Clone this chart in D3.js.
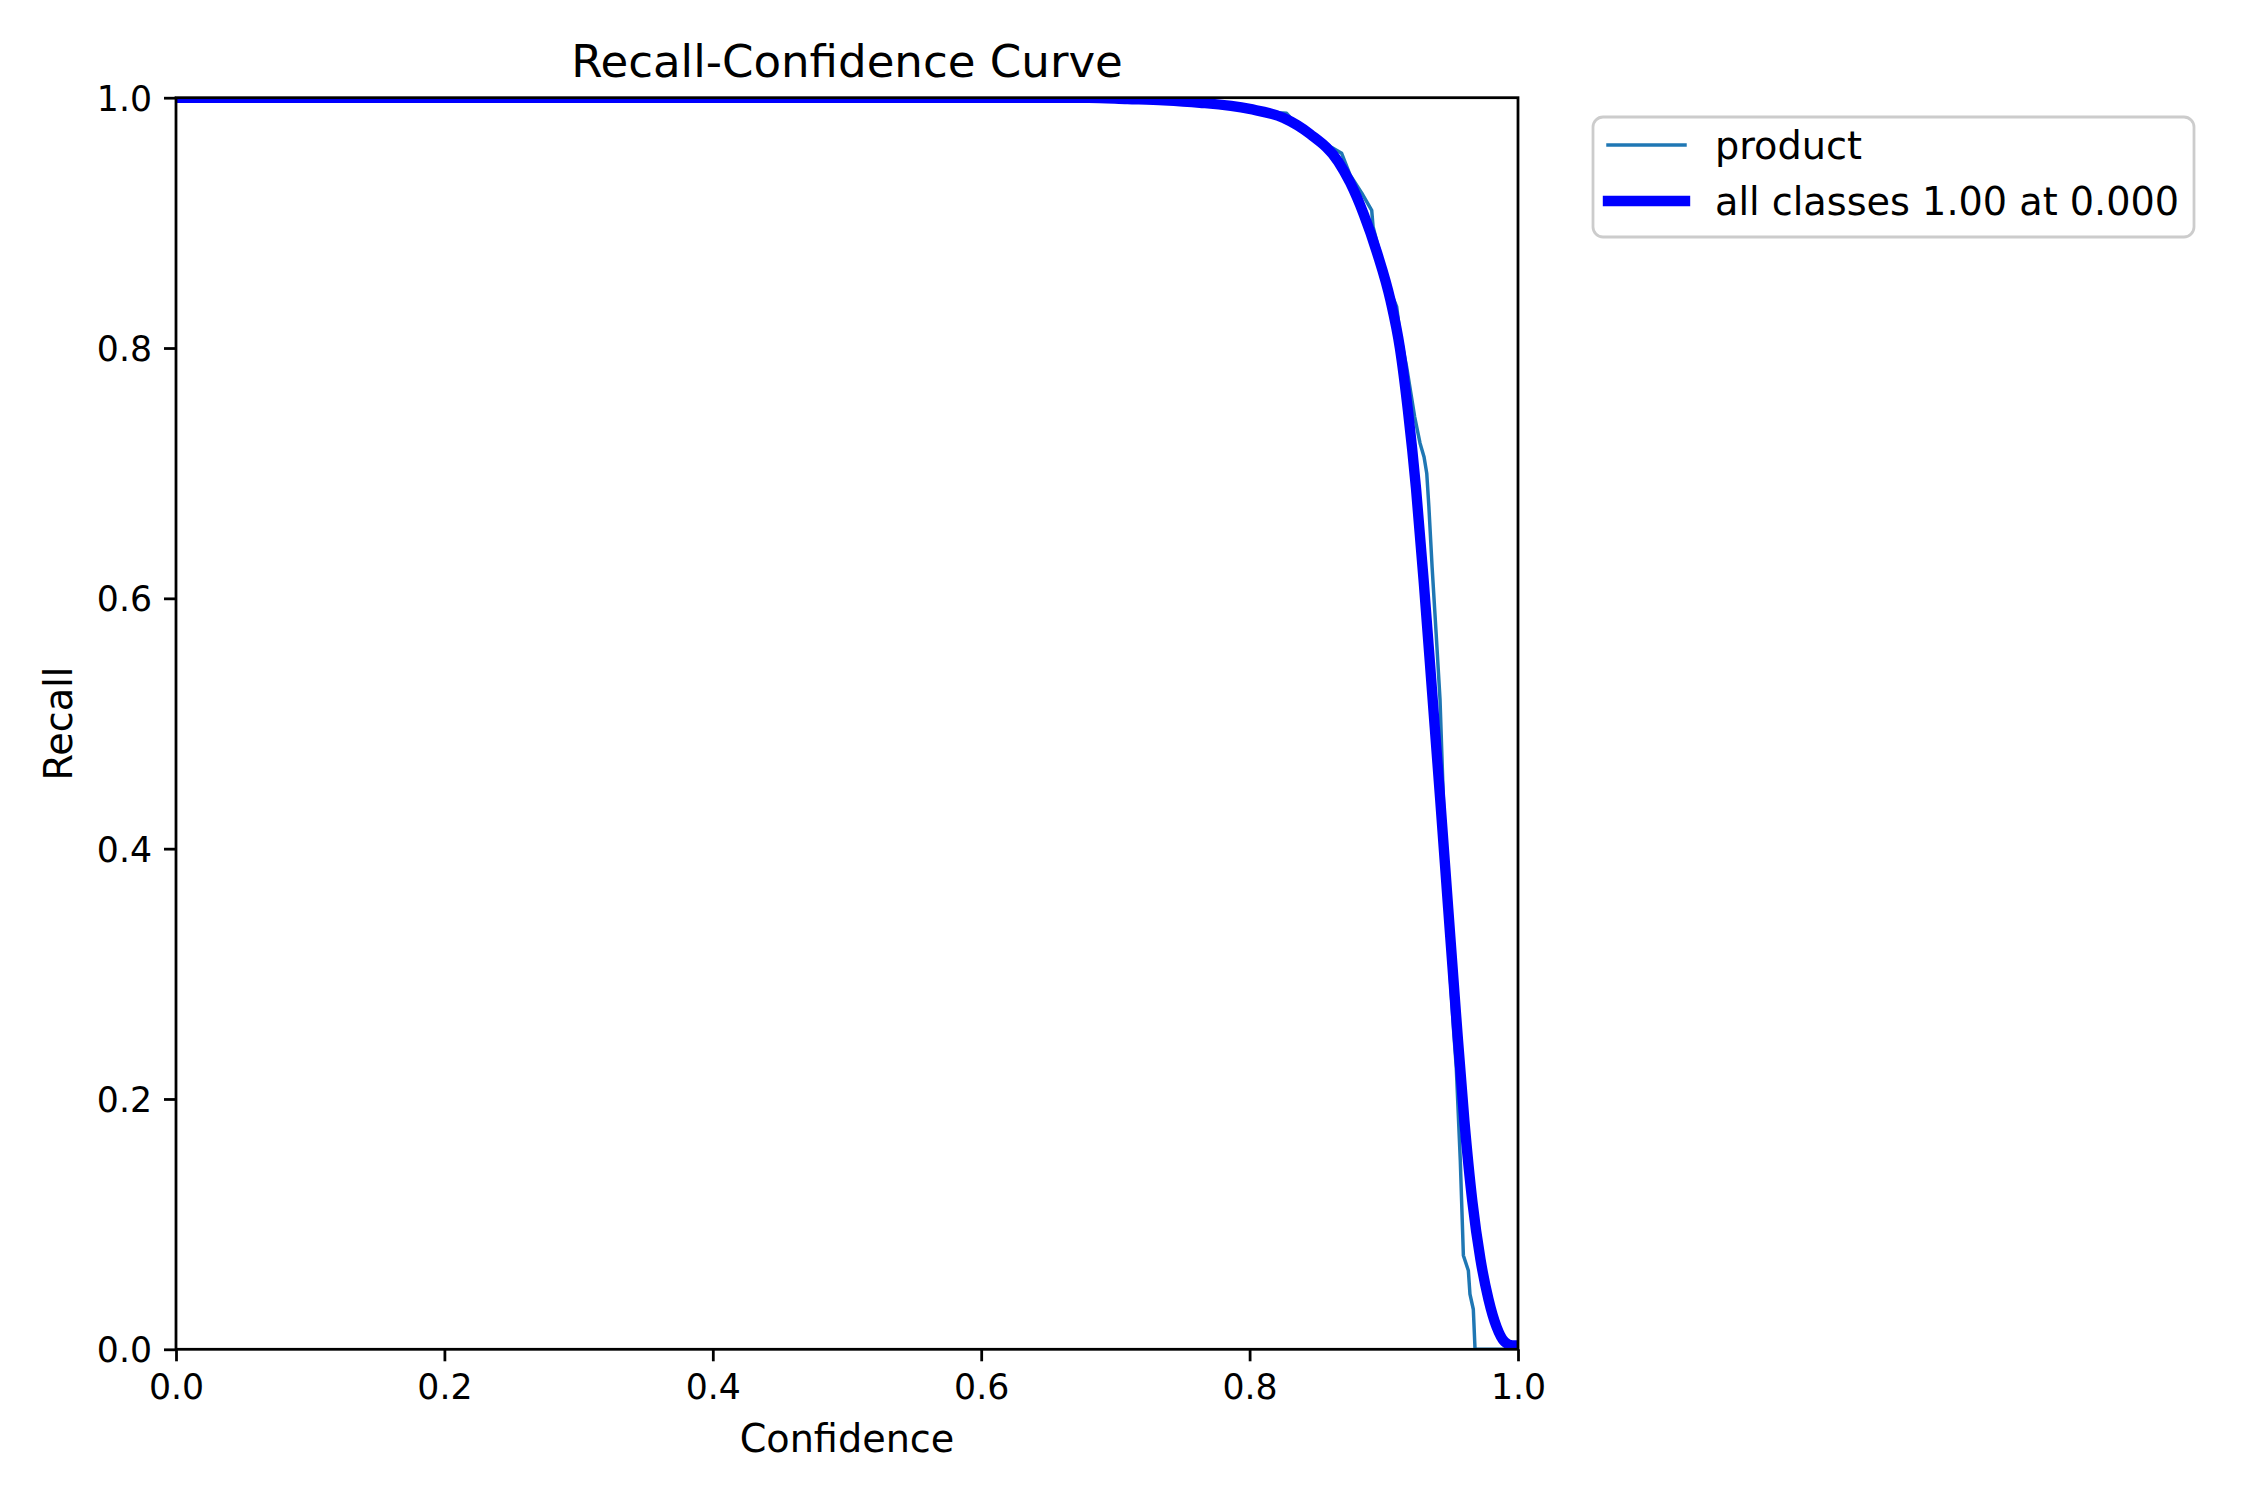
<!DOCTYPE html>
<html>
<head>
<meta charset="utf-8">
<script src="https://cdn.jsdelivr.net/npm/d3@7"></script>
<style>
  body { margin: 0; background: #fff; }
  text { font-family: "DejaVu Sans", sans-serif; fill: #000; }
</style>
</head>
<body>
<svg id="chart" width="2250" height="1500"></svg>
<script>
// per-class curve (product)
var productConf = [0, 0.60, 0.70, 0.74, 0.78, 0.81, 0.822, 0.8276, 0.833, 0.845, 0.860, 0.8686,
  0.875, 0.8835, 0.891, 0.892, 0.898, 0.9046, 0.9096, 0.912, 0.917, 0.923, 0.927, 0.930, 0.932,
  0.9336, 0.936, 0.939, 0.9419, 0.9444, 0.9493, 0.952, 0.954, 0.957, 0.9593, 0.963, 0.9642,
  0.9667, 0.968, 1.0];
var productRecall = [1, 1, 1, 0.997, 0.993, 0.99, 0.988, 0.9875, 0.981, 0.973, 0.961, 0.9556,
  0.938, 0.924, 0.910, 0.897, 0.872, 0.846, 0.833, 0.812, 0.785, 0.745, 0.724, 0.713, 0.700,
  0.673, 0.625, 0.572, 0.519, 0.439, 0.301, 0.255, 0.225, 0.151, 0.075, 0.063, 0.044,
  0.032, 0.0, 0.0];

// mean over all classes
var allConf = [0, 0.60, 0.68, 0.709, 0.736, 0.763, 0.80, 0.825, 0.845, 0.866, 0.875, 0.885,
  0.895, 0.905, 0.912, 0.918, 0.924, 0.930, 0.936, 0.942, 0.948, 0.954, 0.960, 0.966, 0.972,
  0.978, 0.984, 0.990, 0.996, 1.0];
var allRecall = [1, 1, 1, 0.999, 0.998, 0.996, 0.991, 0.984, 0.971, 0.949, 0.932, 0.907,
  0.876, 0.838, 0.800, 0.750, 0.688, 0.610, 0.525, 0.440, 0.352, 0.265, 0.183, 0.118, 0.072,
  0.040, 0.018, 0.006, 0.003, 0.003];

var xTicks = [0, 0.2, 0.4, 0.6, 0.8, 1.0];
var yTicks = [0, 0.2, 0.4, 0.6, 0.8, 1.0];
var legendLabels = ["product", "all classes 1.00 at 0.000"];

(function () {
  var svg = d3.select("#chart");
  // plot box in pixels (note: "top" is taken by window.top, so prefix everything)
  var pLeft = 176, pRight = 1518, pTop = 97.7, pBottom = 1349.3;
  var lw = 2.78; // 0.8pt at 250 dpi

  var x = d3.scaleLinear().domain([0, 1]).range([pLeft, pRight]);
  var y = d3.scaleLinear().domain([0, 1]).range([pBottom, pTop]);

  svg.append("rect").attr("width", 2250).attr("height", 1500).attr("fill", "#fff");

  svg.append("clipPath").attr("id", "plotclip")
    .append("rect")
    .attr("x", pLeft).attr("y", pTop)
    .attr("width", pRight - pLeft).attr("height", pBottom - pTop);

  var plot = svg.append("g").attr("clip-path", "url(#plotclip)");

  var thinLine = d3.line()
    .x(function (d) { return x(d[0]); })
    .y(function (d) { return y(d[1]); });

  var thickLine = d3.line()
    .x(function (d) { return x(d[0]); })
    .y(function (d) { return y(d[1]); })
    .curve(d3.curveMonotoneX);

  plot.append("path")
    .datum(d3.zip(productConf, productRecall))
    .attr("d", thinLine)
    .attr("fill", "none")
    .attr("stroke", "#1f77b4")
    .attr("stroke-width", 3.47)
    .attr("stroke-linejoin", "round");

  plot.append("path")
    .datum(d3.zip(allConf, allRecall))
    .attr("d", thickLine)
    .attr("fill", "none")
    .attr("stroke", "#0000ff")
    .attr("stroke-width", 10.4)
    .attr("stroke-linejoin", "round")
    .attr("stroke-linecap", "square");

  // axes
  var xAxis = d3.axisBottom(x).tickValues(xTicks).tickFormat(d3.format(".1f"))
    .tickSize(12).tickPadding(12);
  var yAxis = d3.axisLeft(y).tickValues(yTicks).tickFormat(d3.format(".1f"))
    .tickSize(12).tickPadding(12);

  var gx = svg.append("g").attr("transform", "translate(0," + pBottom + ")").call(xAxis);
  var gy = svg.append("g").attr("transform", "translate(" + pLeft + ",0)").call(yAxis);

  [gx, gy].forEach(function (g) {
    g.select(".domain").remove();
    g.selectAll(".tick line").attr("stroke", "#000").attr("stroke-width", lw);
    g.selectAll(".tick text")
      .style("font-family", "DejaVu Sans")
      .attr("font-size", 34.7)
      .attr("fill", "#000");
  });
  gx.selectAll(".tick text").attr("dy", null).attr("y", 50);
  gy.selectAll(".tick text").attr("dy", "0.36em");

  // spines
  svg.append("rect")
    .attr("x", pLeft).attr("y", pTop)
    .attr("width", pRight - pLeft).attr("height", pBottom - pTop)
    .attr("fill", "none")
    .attr("stroke", "#000")
    .attr("stroke-width", lw);

  // title and axis labels
  svg.append("text")
    .attr("x", (pLeft + pRight) / 2).attr("y", 77)
    .attr("text-anchor", "middle")
    .attr("font-size", 45.1)
    .text("Recall-Confidence Curve");

  svg.append("text")
    .attr("x", (pLeft + pRight) / 2).attr("y", 1452)
    .attr("text-anchor", "middle")
    .attr("font-size", 38.2)
    .text("Confidence");

  svg.append("text")
    .attr("transform", "translate(72," + (pTop + pBottom) / 2 + ") rotate(-90)")
    .attr("text-anchor", "middle")
    .attr("font-size", 38.2)
    .text("Recall");

  // legend
  var legend = svg.append("g").attr("transform", "translate(1593,117)");
  legend.append("rect")
    .attr("width", 601).attr("height", 120)
    .attr("rx", 10).attr("ry", 10)
    .attr("fill", "#fff").attr("fill-opacity", 0.8)
    .attr("stroke", "#cccccc").attr("stroke-width", lw);

  var rows = [
    { color: "#1f77b4", width: 3.47 },
    { color: "#0000ff", width: 10.4 }
  ];
  rows.forEach(function (r, i) {
    var cy = 28 + i * 56;
    legend.append("line")
      .attr("x1", 15).attr("x2", 92)
      .attr("y1", cy).attr("y2", cy)
      .attr("stroke", r.color)
      .attr("stroke-width", r.width)
      .attr("stroke-linecap", "square");
    legend.append("text")
      .attr("x", 122).attr("y", cy)
      .attr("dy", "0.36em")
      .attr("font-size", 38.2)
      .text(legendLabels[i]);
  });
})();
</script>
</body>
</html>
